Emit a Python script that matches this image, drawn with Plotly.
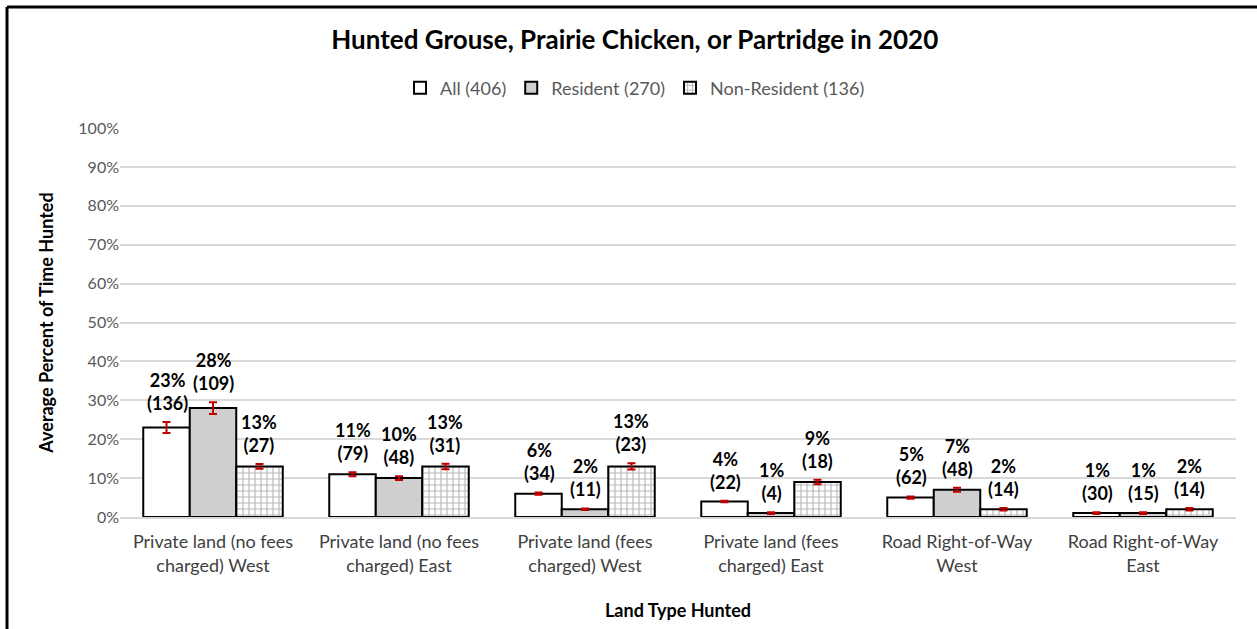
import plotly.graph_objects as go

categories = [
    "Private land (no fees charged) West",
    "Private land (no fees charged) East",
    "Private land (fees charged) West",
    "Private land (fees charged) East",
    "Road Right-of-Way West",
    "Road Right-of-Way East",
]
tick_labels = [
    "Private land (no fees<br>charged) West",
    "Private land (no fees<br>charged) East",
    "Private land (fees<br>charged) West",
    "Private land (fees<br>charged) East",
    "Road Right-of-Way<br>West",
    "Road Right-of-Way<br>East",
]

all_vals = [23, 11, 6, 4, 5, 1]
all_n = [136, 79, 34, 22, 62, 30]
all_err = [1.4, 0.5, 0.3, 0.2, 0.3, 0.2]

res_vals = [28, 10, 2, 1, 7, 1]
res_n = [109, 48, 11, 4, 48, 15]
res_err = [1.5, 0.5, 0.2, 0.2, 0.5, 0.2]

non_vals = [13, 13, 13, 9, 2, 2]
non_n = [27, 31, 23, 18, 14, 14]
non_err = [0.6, 0.7, 0.8, 0.6, 0.3, 0.3]

series = [
    ("All (406)", all_vals, all_n, all_err, "white", None),
    ("Resident (270)", res_vals, res_n, res_err, "#D0CECE", None),
    ("Non-Resident (136)", non_vals, non_n, non_err, "white",
     dict(shape="+", fgcolor="#6f6f6f", bgcolor="white", size=6, solidity=0.35)),
]

FONT = "Lato"
fig = go.Figure()
for name, vals, ns, errs, color, pattern in series:
    marker = dict(color=color, line=dict(color="black", width=2))
    if pattern:
        marker["pattern"] = pattern
    fig.add_trace(go.Bar(
        name=name, x=categories, y=vals, marker=marker,
        error_y=dict(type="data", array=errs, visible=True,
                     color="#C00000", thickness=2, width=4),
    ))

# data labels above bars
offsets = [-46, 0, 46]
for k, (name, vals, ns, errs, color, pattern) in enumerate(series):
    for c, v, n, e in zip(categories, vals, ns, errs):
        fig.add_annotation(
            x=c, y=v + e, xref="x", yref="y", text=f"{v}%<br>({n})",
            showarrow=False, yanchor="bottom", xshift=offsets[k], yshift=6,
            font=dict(family=FONT, size=18, color="black", weight="bold"),
        )

fig.update_layout(
    width=1257, height=629,
    paper_bgcolor="white", plot_bgcolor="white",
    font=dict(family=FONT, color="#595959"),
    margin=dict(l=120, r=21, t=128, b=112),
    barmode="group", bargap=0.25, bargroupgap=0,
    title=dict(text="Hunted Grouse, Prairie Chicken, or Partridge in 2020",
               x=0.505, xref="container", xanchor="center",
               y=1 - 40 / 629, yref="container", yanchor="middle",
               font=dict(family=FONT, size=26, color="black", weight="bold")),
    legend=dict(orientation="h", x=0.4615, xanchor="center", y=1.103, yanchor="middle",
                font=dict(family=FONT, size=18, color="#595959"),
                itemwidth=30, traceorder="normal"),
    showlegend=True,
)
fig.update_yaxes(
    range=[0, 100], dtick=10, ticksuffix="%", showgrid=True, gridcolor="#D9D9D9",
    gridwidth=1.5, zeroline=False, showline=False,
    tickfont=dict(family=FONT, size=16, color="#595959"),
    title=dict(text="Average Percent of Time Hunted", standoff=20,
               font=dict(family=FONT, size=18, color="black", weight="bold")),
)
fig.update_xaxes(
    tickmode="array", tickvals=categories, ticktext=tick_labels,
    showline=True, linecolor="#D9D9D9", linewidth=1.5,
    ticklabelstandoff=8,
    tickfont=dict(family=FONT, size=18, color="#404040"),
    title=dict(text="Land Type Hunted", standoff=30,
               font=dict(family=FONT, size=18, color="black", weight="bold")),
)

# outer frame (top and left edges visible)
x0 = (7 - 120) / 1116
ytop = (517 - 7) / 389
fig.add_shape(type="line", xref="paper", yref="paper", x0=x0, x1=1.1, y0=ytop, y1=ytop,
              line=dict(color="black", width=3))
fig.add_shape(type="line", xref="paper", yref="paper", x0=x0, x1=x0, y0=ytop, y1=-0.4,
              line=dict(color="black", width=3))

fig.write_html("out.html", config={"displayModeBar": False},
               post_script="document.body.style.margin='0';")
